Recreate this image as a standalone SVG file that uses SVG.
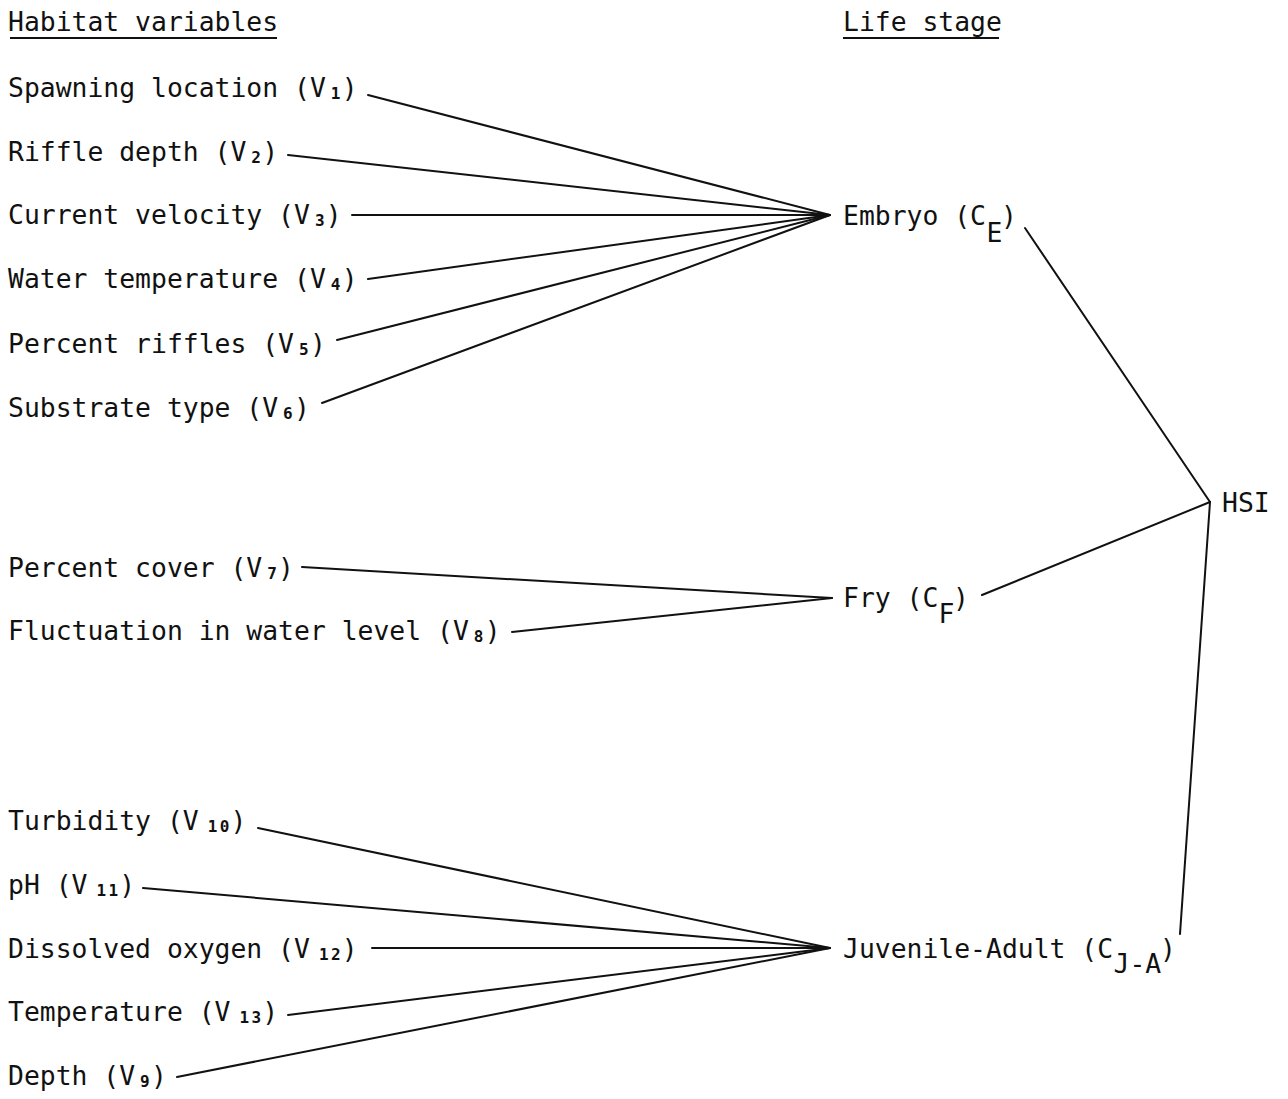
<svg xmlns="http://www.w3.org/2000/svg" width="1288" height="1099" viewBox="0 0 1288 1099">
<style>
text{font-family:"DejaVu Sans Mono","Liberation Mono",monospace;font-size:26.4px;fill:#111}
.sub{font-size:16px;font-weight:bold}
.c line{stroke:#111;stroke-width:2;stroke-linecap:round}
.u{stroke:#111;stroke-width:2.2}
</style>
<rect width="1288" height="1099" fill="#fff"/>
<g id="title-habitat"><text x="8" y="31">Habitat variables</text><line class="u" x1="10" y1="38" x2="277" y2="38"/></g>
<g id="title-life"><text x="843" y="31">Life stage</text><line class="u" x1="843" y1="38" x2="999" y2="38"/></g>

<g id="v1"><text x="8" y="97">Spawning location (V<tspan class="sub" x="330.8" y="99">1</tspan><tspan x="341.7" y="97">)</tspan></text></g>
<g id="v2"><text x="8" y="161">Riffle depth (V<tspan class="sub" x="251.3" y="163">2</tspan><tspan x="262.2" y="161">)</tspan></text></g>
<g id="v3"><text x="8" y="224">Current velocity (V<tspan class="sub" x="314.9" y="226">3</tspan><tspan x="325.8" y="224">)</tspan></text></g>
<g id="v4"><text x="8" y="288">Water temperature (V<tspan class="sub" x="330.8" y="290">4</tspan><tspan x="341.7" y="288">)</tspan></text></g>
<g id="v5"><text x="8" y="353">Percent riffles (V<tspan class="sub" x="299" y="355">5</tspan><tspan x="309.9" y="353">)</tspan></text></g>
<g id="v6"><text x="8" y="417">Substrate type (V<tspan class="sub" x="283.1" y="419">6</tspan><tspan x="294" y="417">)</tspan></text></g>
<g id="v7"><text x="8" y="577">Percent cover (V<tspan class="sub" x="267.2" y="579">7</tspan><tspan x="278.1" y="577">)</tspan></text></g>
<g id="v8"><text x="8" y="640">Fluctuation in water level (V<tspan class="sub" x="473.8" y="642">8</tspan><tspan x="484.7" y="640">)</tspan></text></g>
<g id="v10"><text x="8" y="830">Turbidity (V<tspan class="sub" x="207.7" y="832">1</tspan><tspan class="sub" x="219.7" y="832">0</tspan><tspan x="230.5" y="830">)</tspan></text></g>
<g id="v11"><text x="8" y="894">pH (V<tspan class="sub" x="96.5" y="896">1</tspan><tspan class="sub" x="108.5" y="896">1</tspan><tspan x="119.2" y="894">)</tspan></text></g>
<g id="v12"><text x="8" y="958">Dissolved oxygen (V<tspan class="sub" x="318.9" y="960">1</tspan><tspan class="sub" x="330.9" y="960">2</tspan><tspan x="341.7" y="958">)</tspan></text></g>
<g id="v13"><text x="8" y="1021">Temperature (V<tspan class="sub" x="239.5" y="1023">1</tspan><tspan class="sub" x="251.5" y="1023">3</tspan><tspan x="262.2" y="1021">)</tspan></text></g>
<g id="v9"><text x="8" y="1085">Depth (V<tspan class="sub" x="140.1" y="1087">9</tspan><tspan x="151" y="1085">)</tspan></text></g>

<g id="embryo"><text x="843" y="225">Embryo (C<tspan x="986.5" y="242">E</tspan><tspan x="1001" y="225">)</tspan></text></g>
<g id="fry"><text x="843" y="607">Fry (C<tspan x="938.6" y="623">F</tspan><tspan x="953" y="607">)</tspan></text></g>
<g id="juvenile"><text x="843" y="958">Juvenile-Adult (C<tspan x="1113.5" y="973">J-A</tspan><tspan x="1160" y="958">)</tspan></text></g>
<g id="hsi"><text x="1222" y="512">HSI</text></g>

<g id="connectors" class="c">
<line x1="368" y1="95" x2="830" y2="215"/>
<line x1="288" y1="155" x2="830" y2="215"/>
<line x1="352" y1="215" x2="830" y2="215"/>
<line x1="368" y1="279" x2="830" y2="215"/>
<line x1="337" y1="340" x2="830" y2="215"/>
<line x1="322" y1="403" x2="830" y2="215"/>
<line x1="302" y1="567" x2="832" y2="598"/>
<line x1="512" y1="632" x2="832" y2="598"/>
<line x1="258" y1="828" x2="830" y2="948"/>
<line x1="143" y1="888" x2="830" y2="948"/>
<line x1="372" y1="948" x2="830" y2="948"/>
<line x1="288" y1="1015" x2="830" y2="948"/>
<line x1="177" y1="1077" x2="830" y2="948"/>
<line x1="1025" y1="228" x2="1210" y2="502"/>
<line x1="982" y1="595" x2="1210" y2="502"/>
<line x1="1180" y1="934" x2="1210" y2="502"/>
</g>
</svg>
